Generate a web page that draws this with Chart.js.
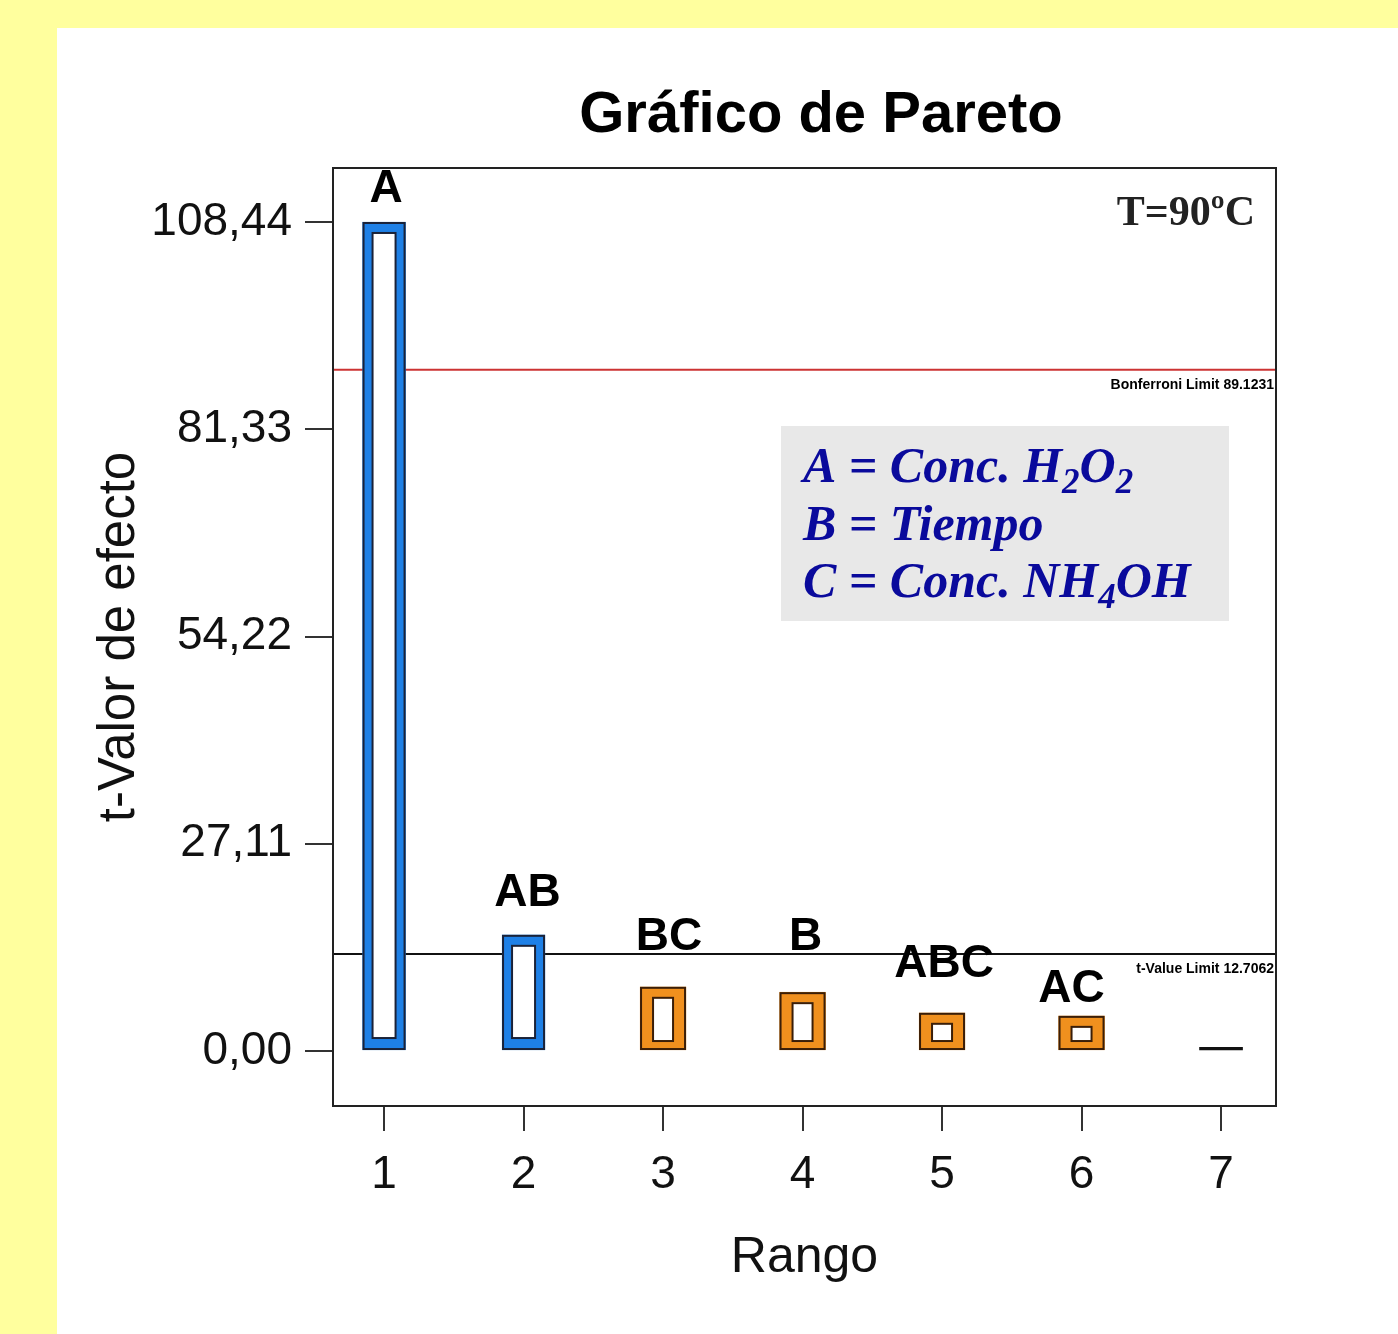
<!DOCTYPE html>
<html>
<head>
<meta charset="utf-8">
<script src="https://cdn.jsdelivr.net/npm/chart.js@4.4.1/dist/chart.umd.min.js"></script>
<style>
html, body { margin: 0; padding: 0; width: 1398px; height: 1334px; overflow: hidden; background: #ffff9e; }
#sheet { position: absolute; left: 57px; top: 28px; right: 0; bottom: 0; background: #fff; }
#wrap { position: absolute; left: 0; top: 0; width: 1398px; height: 1334px; }
</style>
</head>
<body>
<div id="sheet"></div>
<div id="wrap"><canvas id="pareto" width="1398" height="1334"></canvas></div>
<script>
// Pareto chart data
const ranks = [1, 2, 3, 4, 5, 6, 7];
const effectNames = ["A", "AB", "BC", "B", "ABC", "AC", ""];
const tValues = [108.44, 15.2, 8.4, 7.7, 5.0, 4.6, 0.5];
const effectSign = ["+", "+", "-", "-", "-", "-", "0"];
const yTickValues = [0, 27.11, 54.22, 81.33, 108.44];
const bonferroniLimit = 89.1231;
const tValueLimit = 12.7062;
const legendLines = [
	[["A = Conc. H", false], ["2", true], ["O", false], ["2", true]],
	[["B = Tiempo", false]],
	[["C = Conc. NH", false], ["4", true], ["OH", false]]
];

// axis range and label placement (layout only)
const xAxisMin = 0.634, xAxisMax = 7.394;
const labelNudge = [[2, 20], [4, 29], [6, 37], [3, 42], [2, 36], [-10, 14], [0, 0]];

function pointsFor(sign) {
	const pts = [];
	for (let i = 0; i < ranks.length; i++) {
		if (effectSign[i] === sign) pts.push({ x: ranks[i], y: tValues[i], name: effectNames[i], idx: i });
	}
	return pts;
}

Chart.defaults.font.family = "'Liberation Sans', Arial, sans-serif";
Chart.defaults.color = "#111";

const barOutline = {
	id: "barOutline",
	afterDatasetDraw(chart, args) {
		const ds = chart.data.datasets[args.index];
		if (ds.type !== "bar" || !ds.outline) return;
		const ctx = chart.ctx;
		const bw = ds.borderWidth;
		ctx.save();
		ctx.strokeStyle = ds.outline;
		ctx.lineWidth = 2;
		args.meta.data.forEach(bar => {
			const p = bar.getProps(["x", "y", "base", "width"], true);
			const left = p.x - p.width / 2, right = p.x + p.width / 2;
			const top = Math.min(p.y, p.base), bottom = Math.max(p.y, p.base);
			ctx.strokeRect(left + 1, top + 1, right - left - 2, bottom - top - 2);
			ctx.strokeRect(left + bw.left, top + bw.top, right - left - bw.left - bw.right, bottom - top - bw.top - bw.bottom);
		});
		ctx.restore();
	}
};

const annotations = {
	id: "annotations",
	afterDraw(chart) {
		const ctx = chart.ctx;
		const area = chart.chartArea;
		const ys = chart.scales.y;
		ctx.save();

		// plot frame
		ctx.strokeStyle = "#222";
		ctx.lineWidth = 2;
		ctx.strokeRect(area.left, area.top, area.right - area.left, area.bottom - area.top);

		// effect labels above bars
		ctx.fillStyle = "#000";
		ctx.font = "bold 46px 'Liberation Sans', Arial, sans-serif";
		ctx.textAlign = "center";
		ctx.textBaseline = "alphabetic";
		chart.data.datasets.forEach((ds, di) => {
			if (ds.type !== "bar") return;
			chart.getDatasetMeta(di).data.forEach((bar, j) => {
				const pt = ds.data[j];
				if (!pt.name) return;
				const n = labelNudge[pt.idx];
				ctx.fillText(pt.name, bar.x + n[0], bar.y - n[1]);
			});
		});

		// limit labels
		ctx.font = "bold 14px 'Liberation Sans', Arial, sans-serif";
		ctx.textAlign = "right";
		ctx.fillText("Bonferroni Limit " + bonferroniLimit.toFixed(4), area.right - 2, ys.getPixelForValue(bonferroniLimit) + 19);
		ctx.fillText("t-Value Limit " + tValueLimit.toFixed(4), area.right - 2, ys.getPixelForValue(tValueLimit) + 19);

		// title
		ctx.font = "bold 58px 'Liberation Sans', Arial, sans-serif";
		ctx.textAlign = "center";
		ctx.fillText("Gráfico de Pareto", 821, 132);

		// temperature note
		ctx.fillStyle = "#222";
		ctx.font = "bold 42px 'Liberation Serif', 'Times New Roman', serif";
		ctx.textAlign = "right";
		ctx.fillText("T=90ºC", 1255, 225);

		// factor legend
		ctx.fillStyle = "#e8e8e8";
		ctx.fillRect(781, 426, 448, 195);
		ctx.fillStyle = "#0a0a9c";
		ctx.textAlign = "left";
		legendLines.forEach((line, k) => {
			let x = 803;
			const base = 482 + k * 57.5;
			line.forEach(([txt, sub]) => {
				ctx.font = sub ? "italic bold 35px 'Liberation Serif', serif" : "italic bold 50px 'Liberation Serif', serif";
				ctx.fillText(txt, x, base + (sub ? 11 : 0));
				x += ctx.measureText(txt).width;
			});
		});
		ctx.restore();
	}
};

new Chart("pareto", {
	type: "bar",
	data: {
		datasets: [
			{
				type: "line",
				data: [{ x: xAxisMin, y: bonferroniLimit }, { x: xAxisMax, y: bonferroniLimit }],
				borderColor: "#cc3333",
				borderWidth: 2,
				pointRadius: 0,
				order: 2
			},
			{
				type: "line",
				data: [{ x: xAxisMin, y: tValueLimit }, { x: xAxisMax, y: tValueLimit }],
				borderColor: "#111",
				borderWidth: 2,
				pointRadius: 0,
				order: 2
			},
			{
				type: "bar",
				data: pointsFor("+"),
				backgroundColor: "#ffffff",
				borderColor: "#1e80e6",
				borderWidth: { left: 10, right: 10, top: 11, bottom: 12 },
				borderSkipped: false,
				outline: "#1a2238",
				barThickness: 43,
				grouped: false,
				order: 1
			},
			{
				type: "bar",
				data: pointsFor("-"),
				backgroundColor: "#ffffff",
				borderColor: "#f0901e",
				borderWidth: { left: 13, right: 13, top: 11, bottom: 9 },
				borderSkipped: false,
				outline: "#3a1e08",
				barThickness: 46,
				grouped: false,
				order: 1
			},
			{
				type: "bar",
				data: pointsFor("0"),
				backgroundColor: "#111",
				borderWidth: 0,
				barThickness: 43,
				grouped: false,
				order: 1
			}
		]
	},
	options: {
		responsive: false,
		animation: false,
		layout: { padding: { left: 0, top: 168, right: 122, bottom: 0 } },
		plugins: {
			legend: { display: false },
			tooltip: { enabled: false }
		},
		scales: {
			x: {
				type: "linear",
				min: xAxisMin,
				max: xAxisMax,
				offset: false,
				afterBuildTicks: s => { s.ticks = ranks.map(v => ({ value: v })); },
				afterFit: s => { s.height = 228; },
				grid: { drawOnChartArea: false, offset: false, tickLength: 25, color: "#333", lineWidth: 2 },
				border: { display: true, color: "#222", width: 2 },
				ticks: { font: { size: 46 }, padding: 17, callback: v => String(v) },
				title: { display: true, text: "Rango", font: { size: 50 }, padding: { top: 0, bottom: 46 } }
			},
			y: {
				type: "linear",
				min: -7.19,
				max: 115.5,
				afterBuildTicks: s => { s.ticks = yTickValues.map(v => ({ value: v })); },
				afterFit: s => { s.width = 333; },
				grid: { drawOnChartArea: false, tickLength: 28, color: "#333", lineWidth: 2 },
				border: { display: true, color: "#222", width: 2 },
				ticks: { font: { size: 46 }, padding: 13, callback: v => v.toFixed(2).replace(".", ",") },
				title: { display: true, text: "t-Valor de efecto", font: { size: 51 }, padding: { top: 89, bottom: 0 } }
			}
		}
	},
	plugins: [barOutline, annotations]
});
</script>
</body>
</html>
